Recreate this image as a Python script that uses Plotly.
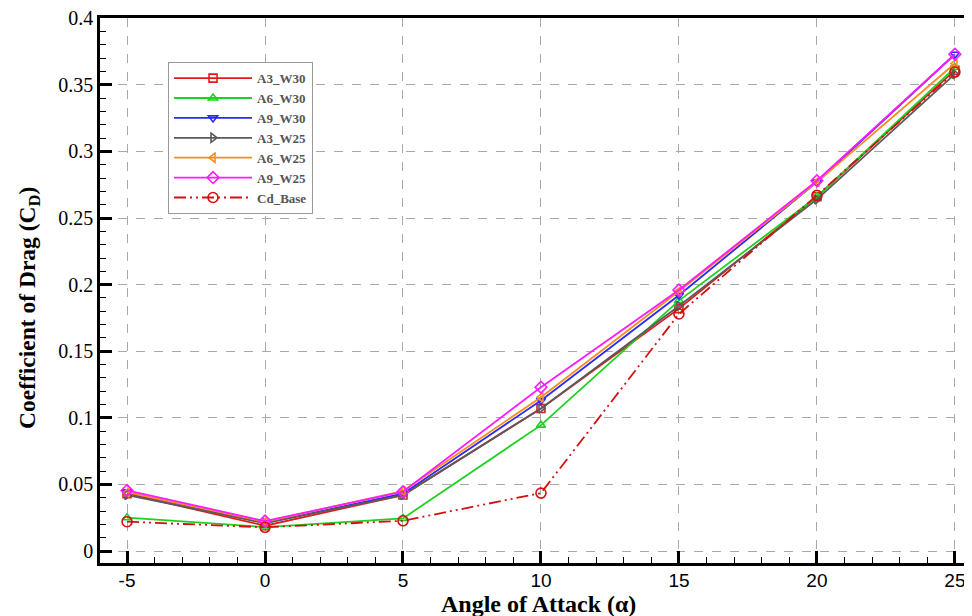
import plotly.graph_objects as go

alpha = [-5, 0, 5, 10, 15, 20, 25]
series_names = ["A3_W30", "A6_W30", "A9_W30", "A3_W25", "A6_W25", "A9_W25", "Cd_Base"]
A3_W30 = [0.043, 0.019, 0.042, 0.107, 0.182, 0.266, 0.361]
A6_W30 = [0.025, 0.018, 0.0245, 0.0945, 0.188, 0.266, 0.363]
A9_W30 = [0.044, 0.021, 0.043, 0.113, 0.192, 0.277, 0.373]
A3_W25 = [0.042, 0.021, 0.042, 0.107, 0.184, 0.264, 0.358]
A6_W25 = [0.044, 0.022, 0.045, 0.1155, 0.195, 0.277, 0.366]
A9_W25 = [0.0455, 0.0225, 0.0445, 0.123, 0.196, 0.278, 0.373]
Cd_Base = [0.022, 0.0178, 0.0227, 0.0435, 0.178, 0.267, 0.3596]
x_ticks = [-5, 0, 5, 10, 15, 20, 25]
x_tick_text = ["-5", "0", "5", "10", "15", "20", "25"]
y_ticks = [0, 0.05, 0.1, 0.15, 0.2, 0.25, 0.3, 0.35, 0.4]
y_tick_text = ["0", "0.05", "0.1", "0.15", "0.2", "0.25", "0.3", "0.35", "0.4"]
x_title = "Angle of Attack (α)"
y_title = "Coefficient of Drag (C<sub>D</sub>)"

data = [A3_W30, A6_W30, A9_W30, A3_W25, A6_W25, A9_W25, Cd_Base]
colors = ["#e31a1a", "#1fd11f", "#2a2aff", "#5a5a5a", "#ff8c1a", "#ff1aff", "#d41010"]
symbols = ["square-open", "triangle-up-open", "triangle-down-open", "triangle-right-open",
           "triangle-left-open", "diamond-open", "circle-open"]
dashes = ["solid"] * 6 + ["12px,4px,2px,4px,2px,4px"]
sizes = [8, 8, 8, 8, 8, 9, 10]

SERIF = "Liberation Serif, Times New Roman, serif"
SANS = "Liberation Sans, Arial, sans-serif"

fig = go.Figure()
for name, ys, c, s, d, sz in zip(series_names, data, colors, symbols, dashes, sizes):
    fig.add_trace(go.Scatter(
        x=alpha, y=ys, name=name, mode="lines+markers",
        line=dict(color=c, width=1.8, dash=d),
        marker=dict(symbol=s, size=sz, color=c, line=dict(color=c, width=1.6)),
    ))

# the page body has an 8px margin; figure is sized so it ends at the window edge
fig.update_layout(
    width=964, height=608,
    margin=dict(l=92, r=0, t=10, b=53, autoexpand=False),
    plot_bgcolor="white", paper_bgcolor="white",
    showlegend=True,
    legend=dict(
        x=0.078, y=0.919, xanchor="left", yanchor="top",
        bgcolor="white", bordercolor="#999999", borderwidth=1,
        font=dict(family=SERIF, size=13, color="#555555", weight="bold"),
        tracegroupgap=0, itemwidth=78,
    ),
    annotations=[
        dict(text=x_title, xref="paper", yref="paper", x=(538 - 100) / 872, y=-(604 - 563) / 545,
             xanchor="center", yanchor="middle", showarrow=False,
             font=dict(family=SERIF, size=24, color="black", weight="bold")),
        dict(text=y_title, xref="paper", yref="paper", x=-(100 - 29) / 872, y=(563 - 308) / 545,
             xanchor="center", yanchor="middle", showarrow=False, textangle=-90,
             font=dict(family=SERIF, size=23.5, color="black", weight="bold")),
    ],
)

fig.update_xaxes(
    range=[-5.98, 25.62], automargin=False,
    tickmode="array", tickvals=x_ticks, ticktext=x_tick_text,
    ticks="inside", ticklen=12, tickwidth=2.5, tickcolor="black",
    showline=True, linewidth=2.5, linecolor="black", mirror=True,
    showgrid=True, gridcolor="#a8a8a8", griddash="dash", gridwidth=1,
    zeroline=False, ticklabelstandoff=-2,
    tickfont=dict(family=SANS, size=19, color="black"),
    minor=dict(dtick=1, ticks="inside", ticklen=6, tickwidth=1, tickcolor="black", showgrid=False),
)
fig.update_yaxes(
    range=[-0.009, 0.4002], automargin=False,
    tickmode="array", tickvals=y_ticks, ticktext=y_tick_text,
    ticks="inside", ticklen=12, tickwidth=2.5, tickcolor="black",
    showline=True, linewidth=2.5, linecolor="black", mirror=False,
    showgrid=True, gridcolor="#a8a8a8", griddash="dash", gridwidth=1,
    zeroline=False, ticklabeloverflow="allow",
    tickfont=dict(family=SERIF, size=20, color="black"),
    minor=dict(dtick=0.01, tick0=0, ticks="inside", ticklen=6, tickwidth=1, tickcolor="black", showgrid=False),
)

fig.write_html("out.html")
